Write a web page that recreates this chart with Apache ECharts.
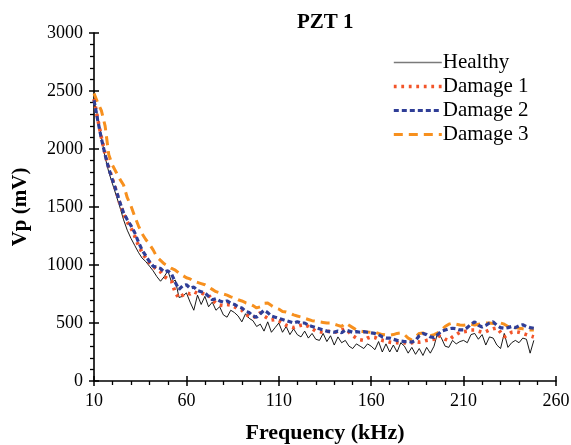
<!DOCTYPE html>
<html><head><meta charset="utf-8">
<script src="https://cdn.jsdelivr.net/npm/echarts@6/dist/echarts.min.js"></script>
<style>html,body{margin:0;padding:0;background:#fff}#c{width:571px;height:445px}</style>
</head><body><div id="c"></div>
<script>
const freq = [10,12,14,16,18,20,22,24,26,28,30,32,34,36,38,40,42,44,46,48,50,52,54,56,58,60,62,64,66,68,70,72,74,76,78,80,82,84,86,88,90,92,94,96,98,100,102,104,106,108,110,112,114,116,118,120,122,124,126,128,130,132,134,136,138,140,142,144,146,148,150,152,154,156,158,160,162,164,166,168,170,172,174,176,178,180,182,184,186,188,190,192,194,196,198,200,202,204,206,208,210,212,214,216,218,220,222,224,226,228,230,232,234,236,238,240,242,244,246,248];
const healthy = [2420,2280,2100,1930,1800,1700,1600,1500,1390,1300,1230,1170,1110,1060,1030,990,950,900,860,900,950,850,870,720,730,760,680,610,740,660,730,640,680,610,640,570,550,610,590,560,510,580,540,520,470,490,430,510,420,460,500,420,470,400,450,400,380,430,370,410,360,350,410,340,390,310,380,330,350,300,280,320,300,280,320,300,270,340,250,320,250,310,250,330,300,240,290,230,280,220,290,240,300,420,370,300,290,350,320,340,350,330,400,410,360,400,310,380,370,310,280,410,290,330,350,330,370,360,240,350];
const damage1 = [2430,2260,2100,1960,1840,1740,1640,1530,1440,1370,1320,1250,1170,1110,1060,1020,990,960,940,900,880,860,760,715,740,760,750,770,755,760,745,740,700,670,655,650,660,655,640,620,610,580,555,545,560,590,560,540,525,530,520,500,480,470,460,470,480,485,470,450,430,425,420,430,425,420,425,440,450,420,390,370,355,350,370,380,375,360,350,345,335,330,330,325,330,320,330,340,335,340,350,355,360,395,380,360,350,380,400,420,425,430,440,440,430,420,425,440,450,457,420,380,400,420,425,420,410,400,390,380];
const damage2 = [2420,2250,2090,1950,1830,1733,1640,1540,1450,1390,1340,1280,1200,1130,1080,1030,990,980,970,940,950,920,850,790,820,830,800,810,780,770,760,730,700,710,690,680,690,670,660,640,630,600,590,560,550,580,610,590,560,550,540,530,520,510,500,510,500,500,480,470,460,450,440,430,425,420,430,415,440,430,420,425,420,425,420,415,410,400,380,370,370,360,350,345,340,340,335,350,390,410,400,380,375,400,430,440,450,455,450,440,440,460,490,510,480,465,480,500,510,480,460,455,460,470,460,475,485,470,460,455];
const damage3 = [2480,2400,2330,2200,1950,1860,1800,1740,1690,1580,1510,1420,1340,1270,1220,1180,1130,1070,1040,1010,990,970,955,930,910,890,880,860,850,840,830,810,790,770,760,750,740,725,715,700,690,675,665,650,630,640,670,672,650,630,620,600,595,585,570,560,552,540,530,520,515,510,505,500,500,490,480,470,500,480,460,440,430,425,422,420,422,410,400,397,395,400,410,414,400,370,353,380,410,414,400,390,400,414,440,470,490,500,490,483,480,485,490,483,490,495,500,500,495,500,500,490,470,457,460,455,450,445,440,440];
const xTicks = [10,60,110,160,210,260];
const yTicks = [0,500,1000,1500,2000,2500,3000];
const seriesNames = ['Healthy','Damage 1','Damage 2','Damage 3'];

const FONT = "'Liberation Serif','Times New Roman',serif";
const pairs = arr => freq.map((f,i)=>[f,arr[i]]);
const chart = echarts.init(document.getElementById('c'), null, {renderer:'canvas'});
const axisCommon = {
  type:'value', splitLine:{show:false},
  axisLine:{show:true, onZero:false, lineStyle:{color:'#000', width:1.6}}
};
const styles = [
  {color:'#000', width:0.9, type:'solid'},
  {color:'#F2552A', width:3.6, type:[2.8,4.7]},
  {color:'#2F3E97', width:3.2, type:[5,3]},
  {color:'#F7901E', width:3, type:[9,6]}
];
chart.setOption({
  animation:false,
  backgroundColor:'#fff',
  title:{text:'PZT 1', left:292, top:7,
    textStyle:{fontFamily:FONT, fontSize:21, fontWeight:'bold', color:'#000'}},
  legend:{orient:'vertical', left:387, top:47, itemWidth:48, itemHeight:14, itemGap:3,
    itemStyle:{opacity:0},
    data:[
      {name:seriesNames[0], lineStyle:{color:'#7a7a7a', width:1.5}},
      {name:seriesNames[1], lineStyle:{color:'#F2552A', width:3.6, type:[2.8,4.7]}},
      {name:seriesNames[2], lineStyle:{color:'#2F3E97', width:3, type:[5,3]}},
      {name:seriesNames[3], lineStyle:{color:'#F7901E', width:3, type:[9,6]}}
    ],
    textStyle:{fontFamily:FONT, fontSize:21, color:'#000', padding:[0,0,0,-4]}},
  grid:{left:94, right:15, top:33, bottom:64, containLabel:false, outerBoundsMode:'none'},
  xAxis:[
    Object.assign({}, axisCommon, {min:10, max:260, interval:50,
      name:'Frequency (kHz)', nameLocation:'middle', nameGap:41,
      nameTextStyle:{fontFamily:FONT, fontSize:22, fontWeight:'bold', color:'#000'},
      axisTick:{show:true, inside:false, length:5, lineStyle:{color:'#000', width:1.5}},
      minorTick:{show:true, splitNumber:5, length:4, lineStyle:{color:'#000', width:1.3}},
      axisLabel:{fontFamily:FONT, fontSize:18, color:'#000', margin:11,
        formatter: v => xTicks.includes(v) ? String(v) : ''}}),
    Object.assign({}, axisCommon, {min:10, max:260, interval:50, position:'bottom',
      axisLine:{show:false},
      axisTick:{show:true, inside:true, length:5, lineStyle:{color:'#000', width:1.5}},
      axisLabel:{show:false}})
  ],
  yAxis:[
    Object.assign({}, axisCommon, {min:0, max:3000, interval:500,
      name:'Vp (mV)', nameLocation:'middle', nameGap:63, nameRotate:90,
      nameTextStyle:{fontFamily:FONT, fontSize:21, fontWeight:'bold', color:'#000'},
      axisTick:{show:true, inside:false, length:5, lineStyle:{color:'#000', width:1.5}},
      minorTick:{show:true, splitNumber:5, length:4, lineStyle:{color:'#000', width:1.3}},
      axisLabel:{fontFamily:FONT, fontSize:18, color:'#000', margin:11,
        formatter: v => yTicks.includes(v) ? String(v) : ''}}),
    Object.assign({}, axisCommon, {min:0, max:3000, interval:500, position:'left',
      axisLine:{show:false},
      axisTick:{show:true, inside:true, length:5, lineStyle:{color:'#000', width:1.5}},
      axisLabel:{show:false}})
  ],
  series:[healthy, damage1, damage2, damage3].map((arr,i)=>({
    name:seriesNames[i], type:'line', data:pairs(arr), showSymbol:false, symbol:'none', symbolSize:0,
    lineStyle:styles[i], itemStyle:{color:styles[i].color}, z:[1,3,4,2][i]
  }))
});
</script></body></html>
